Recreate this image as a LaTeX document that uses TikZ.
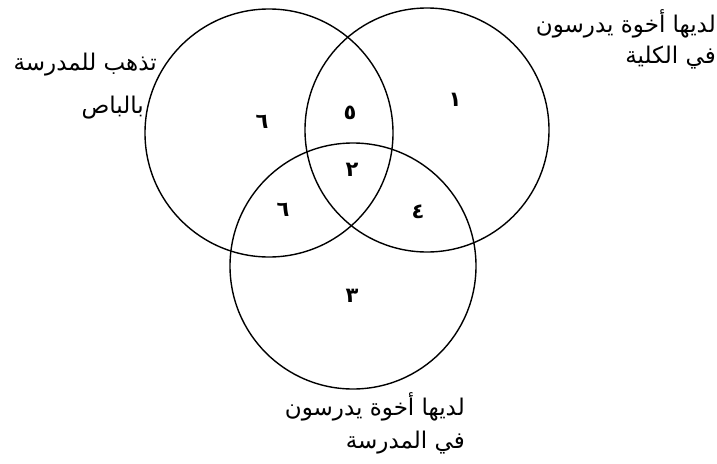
\documentclass[tikz,border=0pt]{standalone}
\usepackage{fontspec}
\TeXXeTstate=1
\newfontfamily\arabicfont[Script=Arabic]{DejaVu Sans}
\usetikzlibrary{positioning}
\tikzset{
  setring/.style = {circle, draw=black, line width=1.4pt, inner sep=0pt, outer sep=0pt},
  setname/.style = {font=\arabicfont\fontsize{23}{31}\selectfont, align=right, inner sep=0pt},
  count/.style   = {font=\arabicfont\fontsize{21}{24}\selectfont\bfseries, inner sep=1pt},
}
\begin{document}
\begin{tikzpicture}[x=1pt,y=-1pt]
    \useasboundingbox (0,0) rectangle (717,463);
    % the three sets
    \node[setring,minimum size=248pt] (bus) at (269,133) {};
    \node[setring,minimum size=244pt] (college) at (427,130) {};
    \node[setring,minimum size=246pt] (school) at (353,266) {};
    % set names
    \node[setname,anchor=north east] (busname) at (157,53) {\beginR تذهب للمدرسة\endR\\[12pt]\beginR بالباص\endR\kern13pt};
    \node[setname,anchor=north east] (collegename) at (716,9) {\beginR لديها أخوة يدرسون\endR\\\beginR في الكلية\endR};
    \node[setname,anchor=north east] (schoolname) at (465,392) {\beginR لديها أخوة يدرسون\endR\\[2pt]\beginR في المدرسة\endR};
    % counts in the regions
    \node[count] (onlybus) at (262,122) {٦};
    \node[count] (buscollege) at (350,113) {٥};
    \node[count] (onlycollege) at (455,100) {١};
    \node[count] (all) at (352,170) {٢};
    \node[count] (busschool) at (283,210) {٦};
    \node[count] (collegeschool) at (418,212) {٤};
    \node[count] (onlyschool) at (352,296) {٣};
\end{tikzpicture}
\end{document}
